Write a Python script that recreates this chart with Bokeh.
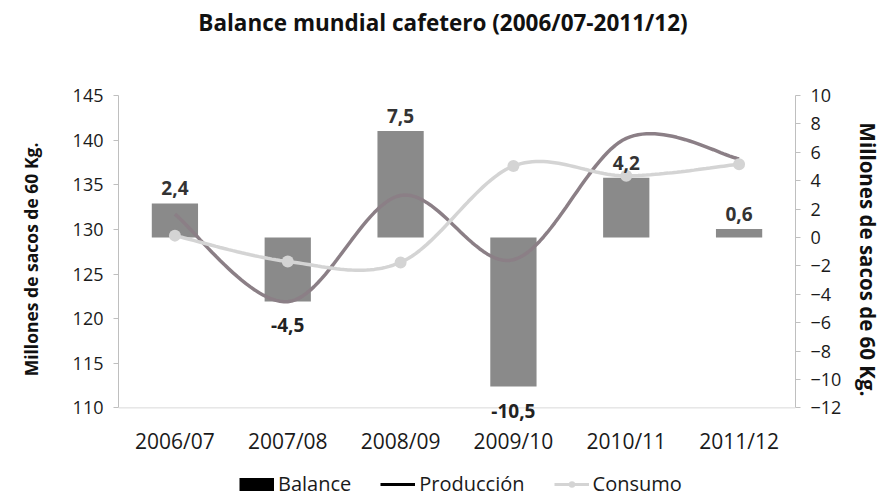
from bokeh.plotting import figure
from bokeh.layouts import column
from bokeh.models import (Range1d, LinearAxis, FixedTicker, ColumnDataSource,
                          LabelSet, Label, Legend, LegendItem, Span)
from bokeh.core.properties import value
from bokeh.embed import file_html
from bokeh.resources import INLINE

# ---------------- data ----------------
categories = ["2006/07", "2007/08", "2008/09", "2009/10", "2010/11", "2011/12"]
balance = [2.4, -4.5, 7.5, -10.5, 4.2, 0.6]
produccion = [131.7, 121.9, 133.8, 126.6, 140.2, 137.9]
consumo = [129.3, 126.4, 126.3, 137.1, 136.0, 137.3]
left_ticks = [110, 115, 120, 125, 130, 135, 140, 145]
right_ticks = [-12, -10, -8, -6, -4, -2, 0, 2, 4, 6, 8, 10]

title_text = "Balance mundial cafetero (2006/07-2011/12)"
axis_title = "Millones de sacos de 60 Kg."
legend_labels = ["Balance", "Producción", "Consumo"]

FONT = "Open Sans"
W = 885
xpos = [i + 0.5 for i in range(len(categories))]
NAN = float("nan")
PAD = 0.05  # extra room under the axes' lowest tick for the data labels

BAR_COL = "#8a8a8a"
PROD_COL = "#8b7f86"
CONS_COL = "#d4d4d4"
AX_COL = "#bfbfbf"
TXT = "#1a1a1a"


def smooth(xs, ys, n=30):
    """Excel-like smoothed line (Catmull-Rom as cubic Bezier)."""
    ox, oy = [], []
    m = len(xs)
    for i in range(m - 1):
        x0, y0 = xs[max(i - 1, 0)], ys[max(i - 1, 0)]
        x1, y1 = xs[i], ys[i]
        x2, y2 = xs[i + 1], ys[i + 1]
        x3, y3 = xs[min(i + 2, m - 1)], ys[min(i + 2, m - 1)]
        c1x, c1y = x1 + (x2 - x0) / 6, y1 + (y2 - y0) / 6
        c2x, c2y = x2 - (x3 - x1) / 6, y2 - (y3 - y1) / 6
        steps = n + (1 if i == m - 2 else 0)
        for k in range(steps):
            t = k / n
            a, b, c, d = (1 - t) ** 3, 3 * (1 - t) ** 2 * t, 3 * (1 - t) * t ** 2, t ** 3
            ox.append(a * x1 + b * c1x + c * c2x + d * x2)
            oy.append(a * y1 + b * c1y + c * c2y + d * y2)
    return ox, oy


def blank(height):
    f = figure(width=W, height=height, x_range=Range1d(0, 1), y_range=Range1d(0, 1),
               x_axis_type=None, y_axis_type=None, output_backend="svg",
               toolbar_location=None, min_border=0)
    f.outline_line_color = None
    f.background_fill_color = "white"
    f.border_fill_color = "white"
    return f


# ---------------- title strip ----------------
head = blank(40)
head.add_layout(Label(x=0.5, y=0.5, x_offset=-14, y_offset=-2, text=title_text,
                      text_align="center", text_baseline="middle", text_font=FONT,
                      text_font_size="22.5px", text_font_style="bold",
                      text_color="#111111"))

# ---------------- main chart ----------------
lspan = left_ticks[-1] - left_ticks[0]
rspan = right_ticks[-1] - right_ticks[0]
p = figure(width=W, height=428, x_range=Range1d(0, len(categories)),
           y_range=Range1d(left_ticks[0] - PAD * lspan, left_ticks[-1]),
           output_backend="svg", toolbar_location=None,
           min_border_left=118, min_border_right=90,
           min_border_top=55, min_border_bottom=45)
p.extra_y_ranges = {"bal": Range1d(right_ticks[0] - PAD * rspan, right_ticks[-1])}
p.outline_line_color = None
p.xgrid.visible = False
p.ygrid.visible = False
p.background_fill_color = "white"
p.border_fill_color = "white"

# faint horizontal axis at the lowest tick
p.add_layout(Span(location=left_ticks[0], dimension="width",
                  line_color="#d9d9d9", line_width=1))

# bars (balance, right axis)
bar_src = ColumnDataSource(dict(x=xpos, top=balance))
p.vbar(x="x", top="top", bottom=0, width=0.41, source=bar_src,
       y_range_name="bal", fill_color=BAR_COL, line_color=None)

# produccion smooth line
sx, sy = smooth(xpos, produccion)
p.line(sx, sy, line_color=PROD_COL, line_width=3.5)

# consumo smooth line + markers
cx, cy = smooth(xpos, consumo)
p.line(cx, cy, line_color=CONS_COL, line_width=3.5)
p.scatter(xpos, consumo, size=12, fill_color=CONS_COL, line_color=None)

# data labels
fmt = [f"{v:.1f}".replace(".", ",") for v in balance]
pos_src = ColumnDataSource(dict(x=[x for x, v in zip(xpos, balance) if v >= 0],
                                y=[v for v in balance if v >= 0],
                                t=[f for f, v in zip(fmt, balance) if v >= 0]))
neg_src = ColumnDataSource(dict(x=[x for x, v in zip(xpos, balance) if v < 0],
                                y=[v for v in balance if v < 0],
                                t=[f for f, v in zip(fmt, balance) if v < 0]))
p.add_layout(LabelSet(x="x", y="y", text="t", source=pos_src, y_range_name="bal",
                      text_align="center", text_baseline="bottom", y_offset=8,
                      text_font=value(FONT), text_font_size="19px",
                      text_font_style="bold", text_color="#333333"))
p.add_layout(LabelSet(x="x", y="y", text="t", source=neg_src, y_range_name="bal",
                      text_align="center", text_baseline="top", y_offset=-17,
                      text_font=value(FONT), text_font_size="19px",
                      text_font_style="bold", text_color="#222222"))

# axes
yl = p.yaxis[0]
yl.ticker = FixedTicker(ticks=left_ticks)
yl.bounds = (left_ticks[0], left_ticks[-1])
yl.axis_label = axis_title
yl.axis_label_text_font_size = "17.5px"
yl.axis_label_standoff = 27

yr = LinearAxis(y_range_name="bal", ticker=FixedTicker(ticks=right_ticks))
yr.bounds = (right_ticks[0], right_ticks[-1])
yr.axis_label = axis_title
yr.axis_label_text_font_size = "20.5px"
yr.axis_label_standoff = 10
p.add_layout(yr, "right")

for ax in (yl, yr):
    ax.axis_label_text_font = FONT
    ax.axis_label_text_font_style = "bold"
    ax.axis_label_text_color = "#111111"
    ax.axis_line_color = AX_COL
    ax.major_tick_line_color = AX_COL
    ax.major_tick_out = 5
    ax.major_tick_in = 0
    ax.minor_tick_line_color = None
    ax.major_label_text_font = FONT
    ax.major_label_text_font_size = "18px"
    ax.major_label_text_color = TXT
    ax.major_label_standoff = 10

xa = p.xaxis[0]
xa.ticker = FixedTicker(ticks=xpos)
xa.major_label_overrides = {x: c for x, c in zip(xpos, categories)}
xa.axis_line_color = None
xa.major_tick_line_color = None
xa.major_tick_out = 0
xa.major_tick_in = 0
xa.minor_tick_line_color = None
xa.major_label_text_font = FONT
xa.major_label_text_font_size = "21px"
xa.major_label_text_color = TXT
xa.major_label_standoff = 3

# ---------------- legend strip ----------------
leg = blank(32)
r_bal = leg.line(x=[NAN], y=[NAN], line_color="black", line_width=13, line_cap="butt")
r_prod = leg.line(x=[NAN], y=[NAN], line_color="black", line_width=3)
r_cl = leg.line(x=[NAN], y=[NAN], line_color=CONS_COL, line_width=3)
r_cp = leg.scatter(x=[NAN], y=[NAN], size=11, fill_color=CONS_COL, line_color=None)
legend = Legend(items=[LegendItem(label=legend_labels[0], renderers=[r_bal]),
                       LegendItem(label=legend_labels[1], renderers=[r_prod]),
                       LegendItem(label=legend_labels[2], renderers=[r_cl, r_cp])],
                orientation="horizontal", location=(121, 3),
                border_line_color=None, background_fill_alpha=0,
                label_text_font=FONT, label_text_font_size="20px",
                label_text_color=TXT, glyph_width=35, glyph_height=16,
                label_standoff=4, spacing=29, margin=0, padding=2)
leg.add_layout(legend, "center")

layout = column(head, p, leg, spacing=0)
open("out.html", "w").write(file_html(layout, INLINE))
